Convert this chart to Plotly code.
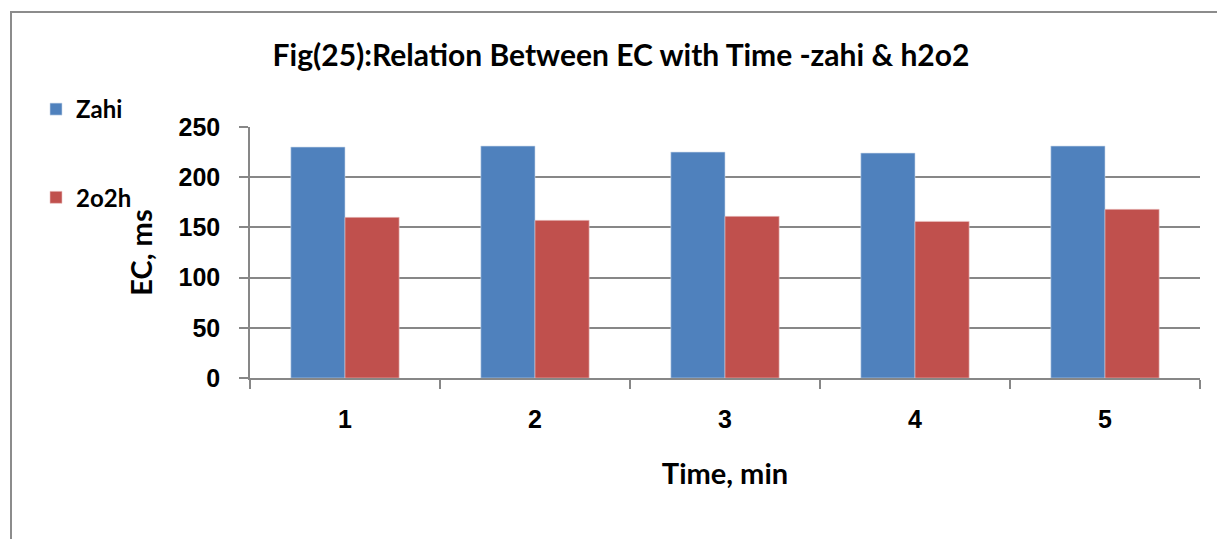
import plotly.graph_objects as go

# Time points (minutes) and electrical conductivity readings
times = ["1", "2", "3", "4", "5"]
zahi = [230, 231, 225, 224, 231]
h2o2 = [160, 157, 161, 156, 168]

W, H = 1217, 539
L, R, T, B = 250, 17, 127, 161
pw, ph = W - L - R, H - T - B

def px_x(p):
    return (p - L) / pw

def px_y(p):
    return (H - B - p) / ph

grid = "#878787"
bold_font = "Lato"
num_font = "Liberation Sans"

fig = go.Figure()
fig.add_trace(go.Bar(
    x=times, y=zahi, name="<b>Zahi</b>", legendgroup="a",
    marker=dict(color="#4F81BD", line=dict(color="#C9D6EA", width=0.6)),
))
fig.add_trace(go.Bar(
    x=times, y=h2o2, name="<b>2o2h</b>", legendgroup="b",
    marker=dict(color="#C0504D", line=dict(color="#EBC5C4", width=0.6)),
))

fig.update_layout(
    width=W, height=H,
    margin=dict(l=L, r=R, t=T, b=B),
    paper_bgcolor="white", plot_bgcolor="white",
    barmode="group", bargap=0.43, bargroupgap=0,
    title=dict(
        text="<b>Fig(25):Relation Between EC with Time -zahi &amp; h2o2</b>",
        x=px_x(621), xref="paper", xanchor="center",
        y=1 - 55 / H, yanchor="middle",
        font=dict(family=bold_font, size=30, color="black"),
    ),
    legend=dict(
        x=px_x(36), xanchor="left",
        y=px_y(87), yanchor="top", yref="paper", xref="paper",
        traceorder="grouped", tracegroupgap=54,
        font=dict(family=bold_font, size=24, color="black"),
        itemwidth=30, bgcolor="rgba(0,0,0,0)",
    ),
    xaxis=dict(
        type="category", tickson="boundaries",
        ticks="outside", ticklen=9, tickcolor=grid, tickwidth=1.5,
        showline=True, linecolor=grid, linewidth=1.5,
        showgrid=False,
        tickfont=dict(family=num_font, size=25, color="black"),
        ticklabelstandoff=18,
        title=dict(text="<b>Time, min</b>", standoff=32,
                   font=dict(family=bold_font, size=29, color="black")),
    ),
    yaxis=dict(
        range=[0, 250], dtick=50,
        ticks="outside", ticklen=9, tickcolor=grid, tickwidth=1.5,
        showline=True, linecolor=grid, linewidth=1.5,
        showgrid=True, gridcolor=grid, gridwidth=1.5,
        zeroline=False,
        tickfont=dict(family=num_font, size=25, color="black"),
        ticklabelstandoff=14,
        title=dict(text="<b>EC, ms</b>", standoff=17,
                   font=dict(family=bold_font, size=29, color="black")),
    ),
    shapes=[dict(
        type="rect", xref="paper", yref="paper", layer="below",
        x0=px_x(11), x1=px_x(1240), y0=px_y(560), y1=px_y(12),
        line=dict(color="#8C8C8C", width=2), fillcolor="rgba(0,0,0,0)",
    )],
)

fig.update_xaxes(tickprefix="<b>", ticksuffix="</b>")
fig.update_yaxes(tickprefix="<b>", ticksuffix="</b>")

fig.write_html("out.html")
